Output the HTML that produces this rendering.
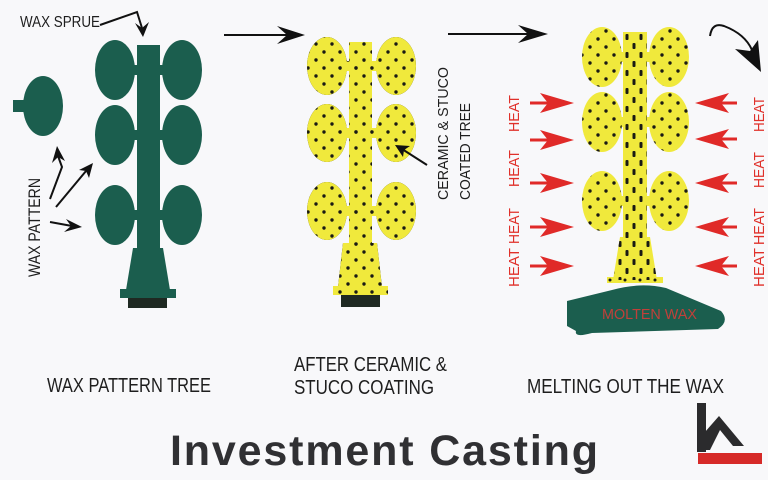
<!DOCTYPE html>
<html><head><meta charset="utf-8"><style>
html,body{margin:0;padding:0;background:#f8f8fa;}
svg{display:block;}
text{font-family:"Liberation Sans",sans-serif;}
</style></head><body>
<svg width="768" height="480" viewBox="0 0 768 480" xmlns="http://www.w3.org/2000/svg">
<defs>
<pattern id="dots" patternUnits="userSpaceOnUse" width="16" height="16" x="0" y="0">
<circle cx="4" cy="4" r="1.7" fill="#1a1a14"/>
<circle cx="12" cy="12" r="1.7" fill="#1a1a14"/>
</pattern>
<pattern id="dots3" patternUnits="userSpaceOnUse" width="16" height="16" x="2" y="3">
<circle cx="4" cy="4" r="1.7" fill="#1a1a14"/>
<circle cx="12" cy="12" r="1.7" fill="#1a1a14"/>
</pattern>
<pattern id="dash" patternUnits="userSpaceOnUse" width="14" height="18" x="623" y="32">
<rect x="2.5" y="2" width="3" height="6" rx="1" fill="#1a1a14"/>
<rect x="9.5" y="11" width="3" height="6" rx="1" fill="#1a1a14"/>
</pattern>
</defs>
<rect width="768" height="480" fill="#f8f8fa"/>

<!-- Tree 1 (green) -->
<g fill="#1b5e4e">
<ellipse cx="43" cy="106" rx="20" ry="30"/>
<rect x="13" y="100" width="12" height="12"/>
<ellipse cx="115" cy="70" rx="20" ry="30"/>
<ellipse cx="182" cy="70" rx="20" ry="30"/>
<ellipse cx="115" cy="135" rx="20" ry="30"/>
<ellipse cx="182" cy="135" rx="20" ry="30"/>
<ellipse cx="115" cy="215" rx="20" ry="30"/>
<ellipse cx="182" cy="215" rx="20" ry="30"/>
<rect x="125" y="65" width="47" height="10"/>
<rect x="125" y="130" width="47" height="10"/>
<rect x="125" y="210" width="47" height="10"/>
<rect x="137" y="45" width="23" height="206"/>
<polygon points="133,248 163,248 170,290 126,290"/>
<rect x="120" y="289" width="56" height="9"/>
</g>
<rect x="128" y="298" width="39" height="10" fill="#1f2922"/>

<!-- Tree 2 (yellow) -->
<g id="t2">
<ellipse cx="327" cy="66" rx="20" ry="29"/>
<ellipse cx="396" cy="66" rx="20" ry="29"/>
<ellipse cx="327" cy="133" rx="20" ry="29"/>
<ellipse cx="396" cy="133" rx="20" ry="29"/>
<ellipse cx="327" cy="211" rx="20" ry="29"/>
<ellipse cx="396" cy="211" rx="20" ry="29"/>
<rect x="340" y="61" width="43" height="10"/>
<rect x="340" y="128" width="43" height="10"/>
<rect x="340" y="206" width="43" height="10"/>
<rect x="349" y="42" width="23" height="205"/>
<polygon points="343,243 377,243 382,287 338,287"/>
<rect x="333" y="286" width="55" height="9"/>
</g>
<g fill="#f0e93c">
<ellipse cx="327" cy="66" rx="20" ry="29"/>
<ellipse cx="396" cy="66" rx="20" ry="29"/>
<ellipse cx="327" cy="133" rx="20" ry="29"/>
<ellipse cx="396" cy="133" rx="20" ry="29"/>
<ellipse cx="327" cy="211" rx="20" ry="29"/>
<ellipse cx="396" cy="211" rx="20" ry="29"/>
<rect x="340" y="61" width="43" height="10"/>
<rect x="340" y="128" width="43" height="10"/>
<rect x="340" y="206" width="43" height="10"/>
<rect x="349" y="42" width="23" height="205"/>
<polygon points="343,243 377,243 382,287 338,287"/>
<rect x="333" y="286" width="55" height="9"/>
</g>
<g fill="url(#dots)">
<ellipse cx="327" cy="66" rx="20" ry="29"/>
<ellipse cx="396" cy="66" rx="20" ry="29"/>
<ellipse cx="327" cy="133" rx="20" ry="29"/>
<ellipse cx="396" cy="133" rx="20" ry="29"/>
<ellipse cx="327" cy="211" rx="20" ry="29"/>
<ellipse cx="396" cy="211" rx="20" ry="29"/>
<rect x="340" y="61" width="43" height="10"/>
<rect x="340" y="128" width="43" height="10"/>
<rect x="340" y="206" width="43" height="10"/>
<rect x="349" y="42" width="23" height="205"/>
<polygon points="343,243 377,243 382,287 338,287"/>
<rect x="333" y="286" width="55" height="9"/>
</g>
<rect x="341" y="295" width="39" height="12" fill="#1f2922"/>

<!-- Tree 3 (melting) -->
<path d="M567,301 L612,290 Q640,282 666,288 L721,311 Q730,321 718,329 L592,333 Q574,338 576,331 L567,326 Z" fill="#1b5e4e"/>
<g fill="#f0e93c">
<ellipse cx="602" cy="57" rx="20" ry="30"/>
<ellipse cx="669" cy="57" rx="20" ry="30"/>
<ellipse cx="602" cy="122" rx="20" ry="30"/>
<ellipse cx="669" cy="122" rx="20" ry="30"/>
<ellipse cx="602" cy="201" rx="20" ry="30"/>
<ellipse cx="669" cy="201" rx="20" ry="30"/>
<rect x="612" y="52" width="47" height="10"/>
<rect x="612" y="117" width="47" height="10"/>
<rect x="612" y="196" width="47" height="10"/>
<rect x="623" y="32" width="24" height="208"/>
<polygon points="620,237 650,237 657,280 613,280"/>
<rect x="607" y="277" width="56" height="6"/>
</g>
<g fill="url(#dots3)">
<ellipse cx="602" cy="57" rx="20" ry="30"/>
<ellipse cx="669" cy="57" rx="20" ry="30"/>
<ellipse cx="602" cy="122" rx="20" ry="30"/>
<ellipse cx="669" cy="122" rx="20" ry="30"/>
<ellipse cx="602" cy="201" rx="20" ry="30"/>
<ellipse cx="669" cy="201" rx="20" ry="30"/>
</g>
<g fill="url(#dash)">
<rect x="623" y="32" width="24" height="208"/>
<polygon points="620,237 650,237 657,280 613,280"/>
</g>
<g fill="#1a1a14">
<circle cx="610" cy="280" r="1.5"/><circle cx="625" cy="280" r="1.5"/><circle cx="640" cy="280" r="1.5"/><circle cx="655" cy="280" r="1.5"/>
</g>
<text x="602" y="319" font-size="15" fill="#c0403a" textLength="95" lengthAdjust="spacingAndGlyphs">MOLTEN WAX</text>

<!-- Black arrows -->
<g stroke="#111" stroke-width="2" fill="none">
<line x1="224" y1="35" x2="290" y2="35"/>
<line x1="448" y1="34" x2="530" y2="34"/>
<polyline points="100,25 137,12 142,28"/>
<polyline points="50,199 62,167 58,156"/>
<line x1="56" y1="207" x2="86" y2="171"/>
<line x1="50" y1="222" x2="72" y2="226"/>
<line x1="427" y1="165" x2="402" y2="149"/>
<path d="M710,36 Q712,22 724,26 Q745,34 752,50"/>
</g>
<g fill="#111">
<polygon points="305,35 277,26 287,35 277,44"/>
<polygon points="548,34 518,25 528,34 518,43"/>
<polygon points="143,37 135,23 142,28 149,22"/>
<polygon points="57,146 52,163 58,157 65,161"/>
<polygon points="93,163 79,170 86,171 89,178"/>
<polygon points="82,227 66,219 71,226 64,232"/>
<polygon points="395,145 403,157 404,150 410,146"/>
<polygon points="761,72 735,49 750,51 758,40"/>
</g>

<!-- Red heat arrows -->
<g stroke="#e02a28" stroke-width="3">
<line x1="530" y1="103" x2="550" y2="103"/>
<line x1="530" y1="140" x2="550" y2="140"/>
<line x1="530" y1="183" x2="550" y2="183"/>
<line x1="530" y1="227" x2="550" y2="227"/>
<line x1="530" y1="266" x2="550" y2="266"/>
<line x1="717" y1="103" x2="737" y2="103"/>
<line x1="717" y1="139" x2="737" y2="139"/>
<line x1="717" y1="183" x2="737" y2="183"/>
<line x1="717" y1="227" x2="737" y2="227"/>
<line x1="717" y1="266" x2="737" y2="266"/>
</g>
<g fill="#e02a28">
<polygon points="574,103 540,93 548,103 540,113"/>
<polygon points="574,140 540,130 548,140 540,150"/>
<polygon points="574,183 540,173 548,183 540,193"/>
<polygon points="574,227 540,217 548,227 540,237"/>
<polygon points="574,266 540,256 548,266 540,276"/>
<polygon points="695,103 729,93 721,103 729,113"/>
<polygon points="695,139 729,129 721,139 729,149"/>
<polygon points="695,183 729,173 721,183 729,193"/>
<polygon points="695,227 729,217 721,227 729,237"/>
<polygon points="695,266 729,256 721,266 729,276"/>
</g>
<g font-size="15" fill="#e0302a">
<text transform="translate(519,287) rotate(-90)" textLength="39" lengthAdjust="spacingAndGlyphs">HEAT</text>
<text transform="translate(519,244) rotate(-90)" textLength="36" lengthAdjust="spacingAndGlyphs">HEAT</text>
<text transform="translate(519,187) rotate(-90)" textLength="37" lengthAdjust="spacingAndGlyphs">HEAT</text>
<text transform="translate(519,132) rotate(-90)" textLength="37" lengthAdjust="spacingAndGlyphs">HEAT</text>
<text transform="translate(764,287) rotate(-90)" textLength="39" lengthAdjust="spacingAndGlyphs">HEAT</text>
<text transform="translate(764,245) rotate(-90)" textLength="37" lengthAdjust="spacingAndGlyphs">HEAT</text>
<text transform="translate(764,188) rotate(-90)" textLength="36" lengthAdjust="spacingAndGlyphs">HEAT</text>
<text transform="translate(764,132) rotate(-90)" textLength="35" lengthAdjust="spacingAndGlyphs">HEAT</text>
</g>

<!-- Labels -->
<g fill="#1e1e1e">
<text x="20" y="27" font-size="16" textLength="80" lengthAdjust="spacingAndGlyphs">WAX SPRUE</text>
<text transform="translate(40,277) rotate(-90)" font-size="17" textLength="99" lengthAdjust="spacingAndGlyphs">WAX PATTERN</text>
<text transform="translate(448,200) rotate(-90)" font-size="15" textLength="133" lengthAdjust="spacingAndGlyphs">CERAMIC &amp; STUCO</text>
<text transform="translate(470,200) rotate(-90)" font-size="15" textLength="97" lengthAdjust="spacingAndGlyphs">COATED TREE</text>
<text x="47" y="392" font-size="20" textLength="164" lengthAdjust="spacingAndGlyphs">WAX PATTERN TREE</text>
<text x="294" y="371" font-size="20" textLength="153" lengthAdjust="spacingAndGlyphs">AFTER CERAMIC &amp;</text>
<text x="294" y="394" font-size="20" textLength="140" lengthAdjust="spacingAndGlyphs">STUCO COATING</text>
<text x="527" y="393" font-size="20" textLength="197" lengthAdjust="spacingAndGlyphs">MELTING OUT THE WAX</text>
</g>
<text x="170" y="465" font-size="43" font-weight="bold" fill="#303033" textLength="428" lengthAdjust="spacing">Investment Casting</text>

<!-- Logo -->
<g fill="#2b2b2d">
<rect x="697" y="403" width="9" height="49"/>
<polygon points="705,432 719,416 744,446 733,446 720,430 710,450 705,450"/>
</g>
<rect x="698" y="453" width="64" height="11" fill="#d62a28"/>
</svg>
</body></html>
